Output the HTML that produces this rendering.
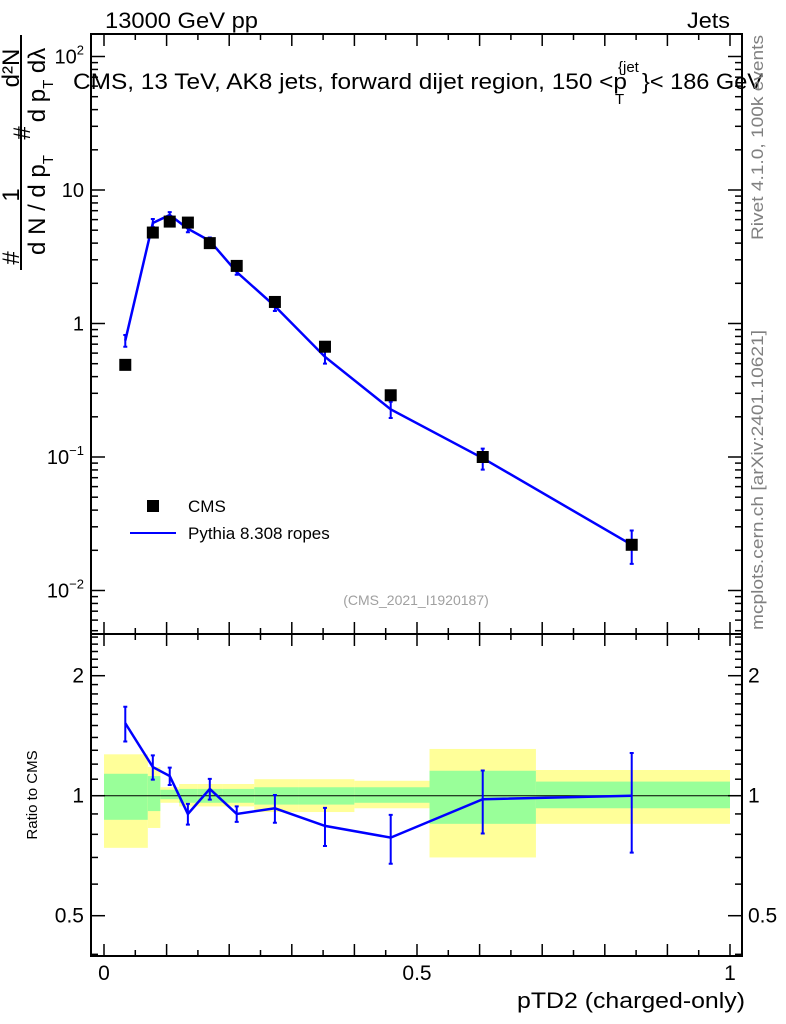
<!DOCTYPE html>
<html><head><meta charset="utf-8"><style>
body{margin:0;background:#fff;}
svg{display:block;font-family:"Liberation Sans",sans-serif;}
</style></head><body>
<svg id="chart" width="786" height="1024" viewBox="0 0 786 1024">
<g id="bands"></g>
<g id="axes"></g>
<g id="series"></g>
<text x="105" y="28" font-size="22" textLength="153" lengthAdjust="spacingAndGlyphs">13000 GeV pp</text>
<text x="687" y="28" font-size="22" textLength="43" lengthAdjust="spacingAndGlyphs">Jets</text>
<text y="89" font-size="22"><tspan x="73" y="89" textLength="554" lengthAdjust="spacingAndGlyphs">CMS, 13 TeV, AK8 jets, forward dijet region, 150 &lt;p</tspan><tspan x="618" y="72" font-size="15">{jet</tspan><tspan x="615" y="104" font-size="15">T</tspan><tspan x="642" y="89" textLength="121" lengthAdjust="spacingAndGlyphs">}&lt; 186 GeV</tspan></text>
<text x="416" y="605" font-size="14" fill="#a0a0a0" text-anchor="middle">(CMS_2021_I1920187)</text>
<text transform="translate(763,240) rotate(-90)" font-size="17" fill="#808080" textLength="205" lengthAdjust="spacingAndGlyphs">Rivet 4.1.0,  100k events</text>
<text transform="translate(763,630) rotate(-90)" font-size="17" fill="#808080" textLength="300" lengthAdjust="spacingAndGlyphs">mcplots.cern.ch [arXiv:2401.10621]</text>
<g font-size="24">
<line x1="21" y1="35" x2="21" y2="270" stroke="#000" stroke-width="2"/>
<text transform="translate(19,258) rotate(-90)" text-anchor="middle">#</text>
<text transform="translate(19,195) rotate(-90)" text-anchor="middle">1</text>
<text transform="translate(30,133) rotate(-90)" text-anchor="middle">#</text>
<text transform="translate(19,68) rotate(-90)" text-anchor="middle">d²N</text>
<text transform="translate(45,205) rotate(-90)" text-anchor="middle">d N / d p<tspan font-size="15" dy="8">T</tspan></text>
<text transform="translate(45,85) rotate(-90)" text-anchor="middle">d p<tspan font-size="15" dy="8">T</tspan><tspan dy="-8"> dλ</tspan></text>
</g>
<text transform="translate(37,795) rotate(-90)" font-size="15" text-anchor="middle">Ratio to CMS</text>
<text x="517" y="1008" font-size="22" textLength="228" lengthAdjust="spacingAndGlyphs">pTD2 (charged-only)</text>
<g>
<rect x="147" y="500" width="12" height="12" fill="#000"/>
<text x="188" y="512" font-size="17">CMS</text>
<line x1="130" y1="533" x2="176" y2="533" stroke="#0000ff" stroke-width="2"/>
<text x="188" y="539" font-size="17">Pythia 8.308 ropes</text>
</g>
</svg>
<script>
// data
const binEdges=[0,0.07,0.09,0.12,0.15,0.19,0.24,0.31,0.40,0.52,0.69,1.0];
const xCenters=[0.034,0.078,0.105,0.134,0.169,0.212,0.273,0.353,0.458,0.605,0.843];
const cmsValues=[0.49,4.8,5.8,5.7,4.0,2.7,1.45,0.67,0.29,0.10,0.022];
const ratioValues=[1.52,1.18,1.12,0.90,1.04,0.90,0.93,0.84,0.785,0.98,1.0];
const mcRelErr=[0.10,0.07,0.05,0.06,0.06,0.045,0.08,0.11,0.14,0.18,0.28];
const yellowUp=[1.27,1.18,1.05,1.07,1.07,1.07,1.10,1.10,1.09,1.31,1.16];
const yellowDn=[0.74,0.83,0.96,0.94,0.94,0.94,0.91,0.91,0.93,0.70,0.85];
const greenUp=[1.135,1.12,1.035,1.04,1.04,1.04,1.05,1.05,1.05,1.155,1.085];
const greenDn=[0.87,0.915,0.98,0.96,0.96,0.96,0.95,0.95,0.96,0.85,0.93];
const ratioTicks=[0.5,1,2];
const mainTicks=[0.01,0.1,1,10,100];

const NS="http://www.w3.org/2000/svg";
const L=91,R=742,T=34,M=634,B=956;
const X=v=>104+626*v;
const Y=v=>190-133.5*Math.log10(v/10);
const YR=r=>795.7-120*Math.log2(r);
function mk(tag,attrs,parent){const e=document.createElementNS(NS,tag);for(const k in attrs)e.setAttribute(k,attrs[k]);parent.appendChild(e);return e;}
const bands=document.getElementById('bands'),axes=document.getElementById('axes'),series=document.getElementById('series');

for(let i=0;i<xCenters.length;i++){
  const x0=X(binEdges[i]),x1=X(binEdges[i+1]);
  const y=mk('rect',{x:x0,y:YR(yellowUp[i]),width:x1-x0,height:YR(yellowDn[i])-YR(yellowUp[i]),fill:'#ffff99'},bands);
  
  
  const g=mk('rect',{x:x0,y:YR(greenUp[i]),width:x1-x0,height:YR(greenDn[i])-YR(greenUp[i]),fill:'#99ff99'},bands);
  
  
}
const ul=mk('line',{x1:L,x2:R,y1:YR(1),y2:YR(1),stroke:'#000','stroke-width':1},axes);



for(const [t,b] of [[T,M],[M,B]]){
  const f=mk('rect',{x:L,y:t,width:R-L,height:b-t,fill:'none',stroke:'#000','stroke-width':2},axes);
  
  
}
for(let k=0;k<=20;k++){
  const v=k*0.05,x=X(v),len=(k%2==0)?12:6;
  for(const [yb,dir] of [[T,1],[M,-1],[M,1],[B,-1]]){
    mk('line',{x1:x,x2:x,y1:yb,y2:yb+dir*len,stroke:'#000','stroke-width':1.5},axes);
  }
}
for(const v of [0,0.5,1]){
  const t=mk('text',{x:X(v),y:980,'font-size':21,'text-anchor':'middle'},axes);
  t.textContent=String(v);
  
  
}
for(let d=-3;d<=2;d++){
  for(let m=1;m<=9;m++){
    const v=m*Math.pow(10,d),y=Y(v);
    if(y<T||y>M)continue;
    const len=m==1?14:7;
    mk('line',{x1:L,x2:L+len,y1:y,y2:y,stroke:'#000','stroke-width':1.5},axes);
    mk('line',{x1:R,x2:R-len,y1:y,y2:y,stroke:'#000','stroke-width':1.5},axes);
  }
}
const mainLabels=['10⁻²','10⁻¹','1','10','10²'];
mainTicks.forEach((v,i)=>{
  const y=Y(v);
  const t=mk('text',{x:84,y:y+7,'font-size':20,'text-anchor':'end'},axes);
  if(v==0.01){t.innerHTML='10<tspan font-size="13" dy="-9">−2</tspan>';}
  else if(v==0.1){t.innerHTML='10<tspan font-size="13" dy="-9">−1</tspan>';}
  else if(v==100){t.innerHTML='10<tspan font-size="13" dy="-9">2</tspan>';}
  else t.textContent=mainLabels[i];
  
  
});
const rminor=[0.4,0.5,0.6,0.7,0.8,0.9,1,1.1,1.2,1.3,1.4,1.5,1.6,1.7,1.8,1.9,2,2.1,2.2,2.3,2.4,2.5];
for(const v of rminor){
  const y=YR(v);if(y<M||y>B)continue;
  const len=ratioTicks.includes(v)?14:7;
  mk('line',{x1:L,x2:L+len,y1:y,y2:y,stroke:'#000','stroke-width':1.5},axes);
  mk('line',{x1:R,x2:R-len,y1:y,y2:y,stroke:'#000','stroke-width':1.5},axes);
}
for(const v of ratioTicks){
  const a=mk('text',{x:84,y:YR(v)+7,'font-size':21,'text-anchor':'end'},axes);
  a.textContent=String(v);
  
  
  const b=mk('text',{x:748,y:YR(v)+7,'font-size':21},axes);
  b.textContent=String(v);
  
  
}
const mc=cmsValues.map((v,i)=>v*ratioValues[i]);
const mainLine=mk('polyline',{points:xCenters.map((x,i)=>X(x)+','+Y(mc[i])).join(' '),fill:'none',stroke:'#0000ff','stroke-width':2.5},series);


const ratioLine=mk('polyline',{points:xCenters.map((x,i)=>X(x)+','+YR(ratioValues[i])).join(' '),fill:'none',stroke:'#0000ff','stroke-width':2.5},series);


xCenters.forEach((xv,i)=>{
  const x=X(xv);
  const e1=mk('path',{d:`M${x},${Y(mc[i]*(1+mcRelErr[i]))}V${Y(mc[i]*(1-mcRelErr[i]))}M${x-2},${Y(mc[i]*(1+mcRelErr[i]))}h4M${x-2},${Y(mc[i]*(1-mcRelErr[i]))}h4`,stroke:'#0000ff','stroke-width':2,fill:'none'},series);
  
  
  const r=ratioValues[i];
  const e2=mk('path',{d:`M${x},${YR(r*(1+mcRelErr[i]))}V${YR(r*(1-mcRelErr[i]))}M${x-2},${YR(r*(1+mcRelErr[i]))}h4M${x-2},${YR(r*(1-mcRelErr[i]))}h4`,stroke:'#0000ff','stroke-width':2,fill:'none'},series);
  
  
  const s=mk('rect',{x:x-6,y:Y(cmsValues[i])-6,width:12,height:12,fill:'#000'},series);
  
  
});
</script>
</body></html>
